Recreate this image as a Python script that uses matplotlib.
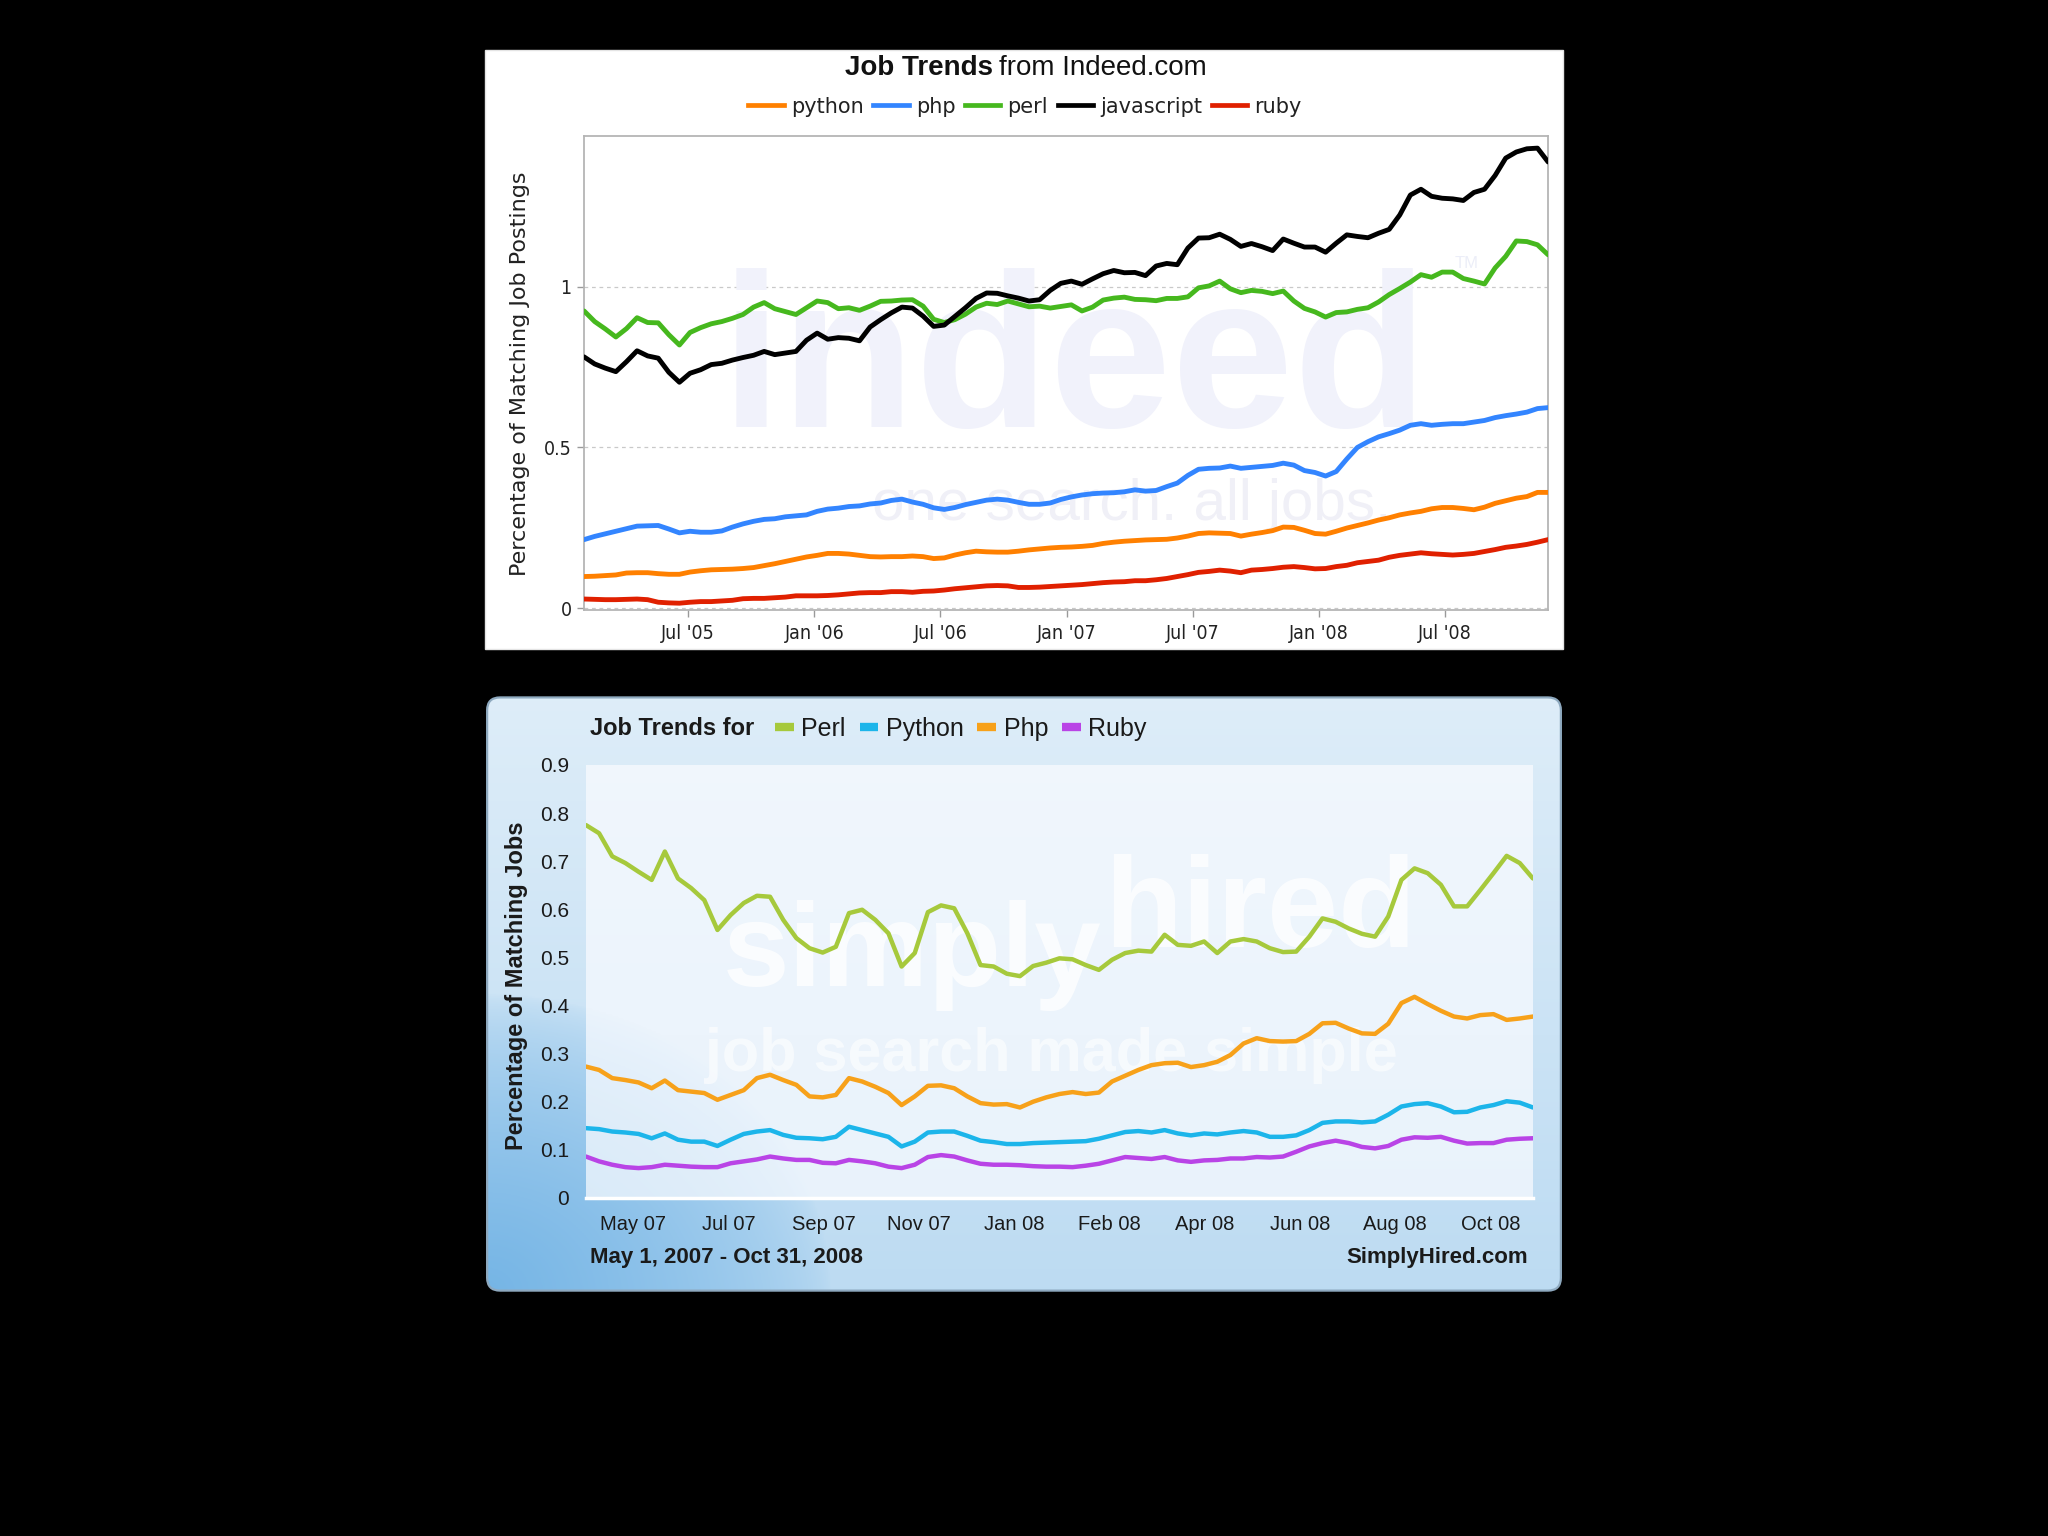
import numpy as np
import matplotlib
matplotlib.use("Agg")
import matplotlib.pyplot as plt
from matplotlib import font_manager
from matplotlib.lines import Line2D
from matplotlib.patches import Rectangle, FancyBboxPatch

# ------------------------------------------------------------------ data
# --- Indeed.com chart (x = months since Jan 2005) ---
indeed_start, indeed_end = 1.05, 46.9
indeed_tick_months = [6, 12, 18, 24, 30, 36, 42]
indeed_tick_labels = ["Jul '05", "Jan '06", "Jul '06", "Jan '07", "Jul '07", "Jan '08", "Jul '08"]
indeed_y_ticks = [0, 0.5, 1]
indeed_y_labels = ["0", "0.5", "1"]
indeed_names = ["python", "php", "perl", "javascript", "ruby"]

indeed_python = [0.098, 0.099, 0.101, 0.103, 0.109, 0.110, 0.110, 0.107, 0.105, 0.105, 0.112, 0.116, 0.119, 0.120, 0.121, 0.123,
                 0.126, 0.132, 0.138, 0.145, 0.152, 0.159, 0.164, 0.170, 0.170, 0.168, 0.164, 0.160, 0.159, 0.160, 0.160,
                 0.162, 0.160, 0.154, 0.156, 0.165, 0.172, 0.177, 0.175, 0.174, 0.174, 0.177, 0.181, 0.184, 0.187, 0.189, 0.190,
                 0.192, 0.195, 0.201, 0.205, 0.208, 0.210, 0.212, 0.213, 0.214, 0.218, 0.224, 0.232, 0.234, 0.233, 0.232,
                 0.224, 0.230, 0.235, 0.241, 0.252, 0.251, 0.242, 0.232, 0.230, 0.239, 0.249, 0.257, 0.265, 0.274, 0.281,
                 0.290, 0.296, 0.301, 0.309, 0.313, 0.313, 0.310, 0.306, 0.314, 0.326, 0.334, 0.342, 0.347, 0.360, 0.360]
indeed_php = [0.213, 0.223, 0.231, 0.239, 0.247, 0.255, 0.256, 0.257, 0.246, 0.234, 0.239, 0.236, 0.236, 0.240, 0.252, 0.262,
              0.270, 0.276, 0.278, 0.284, 0.287, 0.290, 0.301, 0.308, 0.311, 0.316, 0.318, 0.324, 0.327, 0.335, 0.339,
              0.330, 0.323, 0.312, 0.307, 0.313, 0.322, 0.329, 0.336, 0.339, 0.336, 0.329, 0.323, 0.323, 0.327, 0.338, 0.346,
              0.352, 0.356, 0.358, 0.359, 0.362, 0.368, 0.364, 0.366, 0.378, 0.389, 0.413, 0.432, 0.435, 0.436, 0.442,
              0.435, 0.438, 0.441, 0.444, 0.451, 0.445, 0.428, 0.422, 0.411, 0.425, 0.464, 0.500, 0.518, 0.533, 0.543,
              0.554, 0.569, 0.574, 0.569, 0.572, 0.574, 0.574, 0.579, 0.584, 0.593, 0.599, 0.604, 0.610, 0.621, 0.624]
indeed_perl = [0.925, 0.892, 0.869, 0.844, 0.870, 0.904, 0.889, 0.888, 0.851, 0.819, 0.858, 0.873, 0.885, 0.892, 0.902, 0.914,
               0.937, 0.951, 0.932, 0.923, 0.914, 0.935, 0.956, 0.951, 0.932, 0.935, 0.927, 0.940, 0.955, 0.956, 0.959,
               0.960, 0.940, 0.899, 0.889, 0.898, 0.915, 0.937, 0.949, 0.945, 0.956, 0.947, 0.938, 0.940, 0.934, 0.939, 0.944,
               0.925, 0.937, 0.959, 0.965, 0.968, 0.961, 0.960, 0.957, 0.964, 0.964, 0.969, 0.997, 1.003, 1.018, 0.994,
               0.982, 0.989, 0.986, 0.979, 0.987, 0.956, 0.933, 0.922, 0.906, 0.920, 0.922, 0.930, 0.935, 0.953, 0.976,
               0.995, 1.015, 1.038, 1.030, 1.046, 1.046, 1.026, 1.018, 1.009, 1.059, 1.095, 1.143, 1.141, 1.131, 1.100]
indeed_javascript = [0.782, 0.760, 0.747, 0.736, 0.767, 0.801, 0.785, 0.778, 0.734, 0.703, 0.731, 0.742, 0.758, 0.762, 0.772, 0.780,
                     0.787, 0.799, 0.789, 0.794, 0.799, 0.834, 0.856, 0.837, 0.842, 0.840, 0.832, 0.875, 0.898, 0.919, 0.937,
                     0.934, 0.909, 0.877, 0.881, 0.908, 0.935, 0.964, 0.981, 0.980, 0.972, 0.965, 0.956, 0.960, 0.989, 1.011, 1.018,
                     1.008, 1.025, 1.041, 1.051, 1.044, 1.045, 1.035, 1.065, 1.073, 1.069, 1.121, 1.152, 1.153, 1.164, 1.148,
                     1.126, 1.135, 1.125, 1.113, 1.149, 1.136, 1.124, 1.124, 1.108, 1.136, 1.162, 1.157, 1.153, 1.167, 1.179,
                     1.224, 1.286, 1.304, 1.282, 1.276, 1.274, 1.269, 1.294, 1.304, 1.347, 1.401, 1.420, 1.430, 1.432, 1.389]
indeed_ruby = [0.028, 0.027, 0.026, 0.026, 0.027, 0.028, 0.026, 0.018, 0.016, 0.015, 0.018, 0.020, 0.020, 0.022, 0.024, 0.029,
               0.030, 0.030, 0.032, 0.034, 0.038, 0.038, 0.038, 0.039, 0.041, 0.044, 0.047, 0.048, 0.048, 0.051, 0.051,
               0.049, 0.052, 0.053, 0.056, 0.060, 0.063, 0.066, 0.069, 0.070, 0.069, 0.064, 0.064, 0.065, 0.067, 0.069, 0.071,
               0.073, 0.076, 0.079, 0.081, 0.082, 0.085, 0.085, 0.088, 0.092, 0.098, 0.104, 0.111, 0.114, 0.118, 0.115,
               0.110, 0.118, 0.120, 0.123, 0.127, 0.129, 0.126, 0.122, 0.123, 0.129, 0.133, 0.141, 0.145, 0.149, 0.158,
               0.164, 0.168, 0.172, 0.169, 0.167, 0.165, 0.167, 0.170, 0.176, 0.182, 0.189, 0.193, 0.198, 0.205, 0.213]

# --- SimplyHired chart (x = months since May 1, 2007) ---
sh_start, sh_end = 0.0, 18.0
sh_tick_pos = [0.90, 2.71, 4.52, 6.33, 8.14, 9.95, 11.76, 13.57, 15.38, 17.19]
sh_tick_labels = ["May 07", "Jul 07", "Sep 07", "Nov 07", "Jan 08", "Feb 08", "Apr 08", "Jun 08", "Aug 08", "Oct 08"]
sh_y_ticks = [0, 0.1, 0.2, 0.3, 0.4, 0.5, 0.6, 0.7, 0.8, 0.9]
sh_y_labels = ["0", "0.1", "0.2", "0.3", "0.4", "0.5", "0.6", "0.7", "0.8", "0.9"]
sh_names = ["Perl", "Python", "Php", "Ruby"]

sh_perl = [0.775, 0.758, 0.710, 0.696, 0.678, 0.661, 0.720, 0.664, 0.644, 0.619, 0.557, 0.588, 0.613, 0.628, 0.626, 0.578,
           0.540, 0.519, 0.510, 0.522, 0.592, 0.599, 0.578, 0.550, 0.481,
           0.509, 0.594, 0.608, 0.602, 0.550, 0.484, 0.481, 0.466, 0.461, 0.482, 0.489, 0.498, 0.496, 0.484, 0.474, 0.495,
           0.509, 0.514, 0.512, 0.547, 0.526, 0.524, 0.533, 0.509,
           0.533, 0.538, 0.533, 0.519, 0.511, 0.512, 0.543, 0.581, 0.574, 0.560, 0.549, 0.543, 0.585, 0.661, 0.685, 0.675,
           0.651, 0.606, 0.606, 0.640, 0.675, 0.711, 0.696, 0.664]
sh_python = [0.145, 0.143, 0.138, 0.136, 0.133, 0.124, 0.134, 0.121, 0.117, 0.117, 0.108, 0.121, 0.133, 0.138, 0.141, 0.131,
             0.125, 0.124, 0.122, 0.127, 0.148, 0.141, 0.134, 0.127, 0.107,
             0.117, 0.136, 0.138, 0.138, 0.129, 0.119, 0.116, 0.112, 0.112, 0.114, 0.115, 0.116, 0.117, 0.118, 0.123, 0.130,
             0.137, 0.139, 0.136, 0.141, 0.134, 0.130, 0.134, 0.132,
             0.136, 0.139, 0.136, 0.127, 0.127, 0.130, 0.141, 0.156, 0.159, 0.159, 0.157, 0.159, 0.173, 0.190, 0.195, 0.197,
             0.190, 0.178, 0.179, 0.188, 0.193, 0.201, 0.198, 0.188]
sh_php = [0.273, 0.266, 0.249, 0.245, 0.240, 0.228, 0.244, 0.224, 0.221, 0.218, 0.204, 0.214, 0.224, 0.249, 0.256, 0.245,
          0.235, 0.211, 0.209, 0.214, 0.249, 0.242, 0.231, 0.218, 0.193,
          0.211, 0.233, 0.234, 0.228, 0.211, 0.197, 0.194, 0.195, 0.188, 0.200, 0.209, 0.216, 0.220, 0.216, 0.219, 0.242,
          0.254, 0.266, 0.276, 0.280, 0.281, 0.272, 0.276, 0.283,
          0.297, 0.321, 0.332, 0.326, 0.325, 0.326, 0.341, 0.363, 0.364, 0.352, 0.342, 0.341, 0.362, 0.405, 0.418, 0.403,
          0.389, 0.377, 0.373, 0.380, 0.382, 0.370, 0.373, 0.377]
sh_ruby = [0.086, 0.076, 0.069, 0.064, 0.062, 0.064, 0.069, 0.067, 0.065, 0.064, 0.064, 0.072, 0.076, 0.080, 0.086, 0.082,
           0.079, 0.079, 0.073, 0.072, 0.079, 0.076, 0.072, 0.065, 0.062,
           0.069, 0.085, 0.089, 0.086, 0.078, 0.071, 0.069, 0.069, 0.068, 0.066, 0.065, 0.065, 0.064, 0.067, 0.071, 0.078,
           0.085, 0.083, 0.081, 0.085, 0.078, 0.075, 0.078, 0.079,
           0.082, 0.082, 0.085, 0.084, 0.086, 0.096, 0.107, 0.114, 0.119, 0.114, 0.106, 0.103, 0.108, 0.121, 0.126, 0.125,
           0.127, 0.119, 0.113, 0.114, 0.114, 0.121, 0.123, 0.124]

# ------------------------------------------------------------------ fonts
available = {f.name for f in font_manager.fontManager.ttflist}


def pick(*names):
    for n in names:
        if n in available:
            return n
    return "DejaVu Sans"


ARIAL = pick("Liberation Sans", "DejaVu Sans")
VERDANA = "DejaVu Sans"

# ------------------------------------------------------------------ figure
fig = plt.figure(figsize=(20.48, 15.36), dpi=100, facecolor="black")

# ================= top: Indeed =================
fig.add_artist(Rectangle((0.2368, 0.5775), 0.5264, 0.390, transform=fig.transFigure,
                         facecolor="white", edgecolor="#e4e4e4", lw=1, zorder=-1))

ax1 = fig.add_axes([0.2852, 0.6029, 0.4707, 0.3086])
ax1.set_facecolor("white")
indeed_colors = ["#ff8000", "#3385ff", "#46b81e", "#000000", "#e02000"]
indeed_vals = [indeed_python, indeed_php, indeed_perl, indeed_javascript, indeed_ruby]
for name, vals, col in zip(indeed_names, indeed_vals, indeed_colors):
    x = np.linspace(indeed_start, indeed_end, len(vals))
    ax1.plot(x, vals, color=col, lw=3.5, solid_joinstyle="round", solid_capstyle="round", zorder=3)

# faint watermark
ax1.text(0.509, 0.385, "indeed", transform=ax1.transAxes, ha="center", va="baseline",
         fontsize=158, fontweight="bold", family=ARIAL, color="#f1f2fb", zorder=1)
ax1.text(0.568, 0.19, "one search. all jobs.", transform=ax1.transAxes, ha="center", va="baseline",
         fontsize=42, family=ARIAL, color="#f0f0f7", zorder=1)
ax1.text(0.915, 0.73, "TM", transform=ax1.transAxes, ha="center", va="center",
         fontsize=12, family=ARIAL, color="#eceef8", zorder=1)

ax1.set_xlim(indeed_start, indeed_end)
ax1.set_ylim(-0.006, 1.47)
ax1.set_yticks(indeed_y_ticks)
ax1.set_yticklabels(indeed_y_labels)
ax1.set_xticks(indeed_tick_months)
ax1.set_xticklabels(indeed_tick_labels)
for s in ax1.spines.values():
    s.set_color("#b5b5b5")
    s.set_linewidth(1.3)
ax1.tick_params(axis="both", colors="#9a9a9a", labelcolor="#222222", length=5, width=1)
for lab in ax1.get_xticklabels() + ax1.get_yticklabels():
    lab.set_fontfamily(VERDANA)
    lab.set_fontstretch("condensed")
    lab.set_fontsize(14)
ax1.tick_params(axis="x", pad=5)
ax1.tick_params(axis="y", pad=4)
ax1.grid(axis="y", linestyle=(0, (3, 3)), color="#c9c9c9", linewidth=0.9)
ax1.set_axisbelow(True)

fig.text(0.2539, 0.7565, "Percentage of Matching Job Postings", rotation=90, ha="center", va="center",
         fontsize=16, family=VERDANA, color="#222222")
fig.text(0.4849, 0.9557, "Job Trends", ha="right", va="center", fontsize=20, fontweight="bold",
         family=ARIAL, color="#111111")
fig.text(0.4878, 0.9557, "from Indeed.com", ha="left", va="center", fontsize=20,
         family=ARIAL, color="#111111")
h1 = [Line2D([], [], color=c, lw=3.4) for c in indeed_colors]
fig.legend(h1, indeed_names, loc="center", bbox_to_anchor=(0.5005, 0.9305), ncol=5, frameon=False,
           prop={"family": VERDANA, "size": 15}, handlelength=1.7, handletextpad=0.35,
           columnspacing=0.45, borderpad=0, labelcolor="#222222")

# ================= bottom: SimplyHired =================
ax_bg = fig.add_axes([0.2368, 0.1582, 0.5264, 0.3893])
ax_bg.set_xlim(0, 1)
ax_bg.set_ylim(0, 1)
ax_bg.axis("off")
u = np.linspace(0, 1, 500)[None, :]
v = np.linspace(0, 1, 300)[:, None]
top_c = np.array([0.87, 0.93, 0.975])
bot_c = np.array([0.74, 0.86, 0.95])
dark_c = np.array([0.46, 0.71, 0.90])
base = top_c * v[..., None] + bot_c * (1 - v[..., None])
base = np.broadcast_to(base, (300, 500, 3)).copy()
w = np.clip(1 - np.sqrt((u / 0.32) ** 2 + (v / 0.5) ** 2), 0, 1) ** 0.6
img = base * (1 - w[..., None]) + dark_c * w[..., None]
img = np.clip(img, 0, 1)
im = ax_bg.imshow(img, extent=[0, 1, 0, 1], origin="lower", aspect="auto", zorder=0)
frame = FancyBboxPatch((0.002, 0.004), 0.996, 0.992, boxstyle="round,pad=0,rounding_size=0.012",
                       mutation_aspect=1.8, transform=ax_bg.transData, facecolor="none",
                       edgecolor="#8ea9bf", lw=1.6, zorder=2)
ax_bg.add_patch(frame)
im.set_clip_path(frame)

ax2 = fig.add_axes([0.2861, 0.2201, 0.4624, 0.2819])
ax2.set_facecolor((0.975, 0.985, 1.0, 0.72))
sh_colors = ["#a6c93c", "#1cb5ea", "#f7a11a", "#b944e6"]
sh_vals = [sh_perl, sh_python, sh_php, sh_ruby]
ax2.text(0.145, 0.49, "simply", transform=ax2.transAxes, ha="left", va="baseline", fontsize=86,
         fontweight="bold", family=ARIAL, color="white", alpha=0.75, zorder=1)
ax2.text(0.547, 0.58, "hired", transform=ax2.transAxes, ha="left", va="baseline", fontsize=92,
         fontweight="bold", family=ARIAL, color="white", alpha=0.75, zorder=1)
ax2.text(0.126, 0.293, "job search made simple", transform=ax2.transAxes, ha="left", va="baseline",
         fontsize=44, fontweight="bold", family=ARIAL, color="white", alpha=0.6, zorder=1)
for name, vals, col in zip(sh_names, sh_vals, sh_colors):
    x = np.linspace(sh_start, sh_end, len(vals))
    ax2.plot(x, vals, color=col, lw=3.2, solid_joinstyle="round", solid_capstyle="round", zorder=3)
ax2.set_xlim(sh_start, sh_end)
ax2.set_ylim(0, 0.9)
ax2.set_yticks(sh_y_ticks)
ax2.set_yticklabels(sh_y_labels)
ax2.set_xticks(sh_tick_pos)
ax2.set_xticklabels(sh_tick_labels)
for side in ["top", "right", "left"]:
    ax2.spines[side].set_visible(False)
ax2.spines["bottom"].set_color("white")
ax2.spines["bottom"].set_linewidth(2.5)
ax2.tick_params(axis="both", length=0, labelcolor="#1a1a1a")
ax2.tick_params(axis="y", pad=12, labelsize=15)
ax2.tick_params(axis="x", pad=12, labelsize=14.5)
for lab in ax2.get_xticklabels() + ax2.get_yticklabels():
    lab.set_fontfamily(ARIAL)

fig.text(0.2524, 0.358, "Percentage of Matching Jobs", rotation=90, ha="center", va="center",
         fontsize=17, fontweight="bold", family=ARIAL, color="#1a1a1a")
fig.text(0.2881, 0.5254, "Job Trends for", ha="left", va="center", fontsize=17, fontweight="bold",
         family=ARIAL, color="#1a1a1a")
h2 = [Line2D([], [], color=c, lw=6, solid_capstyle="butt") for c in sh_colors]
fig.legend(h2, sh_names, loc="center left", bbox_to_anchor=(0.3785, 0.5254), ncol=4, frameon=False,
           prop={"family": ARIAL, "size": 18}, handlelength=0.75, handletextpad=0.3,
           columnspacing=0.55, borderpad=0, borderaxespad=0, labelcolor="#1a1a1a")
fig.text(0.2881, 0.181, "May 1, 2007 - Oct 31, 2008", ha="left", va="center", fontsize=16,
         fontweight="bold", family=ARIAL, color="#1a1a1a")
fig.text(0.7461, 0.181, "SimplyHired.com", ha="right", va="center", fontsize=16,
         fontweight="bold", family=ARIAL, color="#1a1a1a")

fig.savefig("out.png", dpi=100, facecolor="black")
